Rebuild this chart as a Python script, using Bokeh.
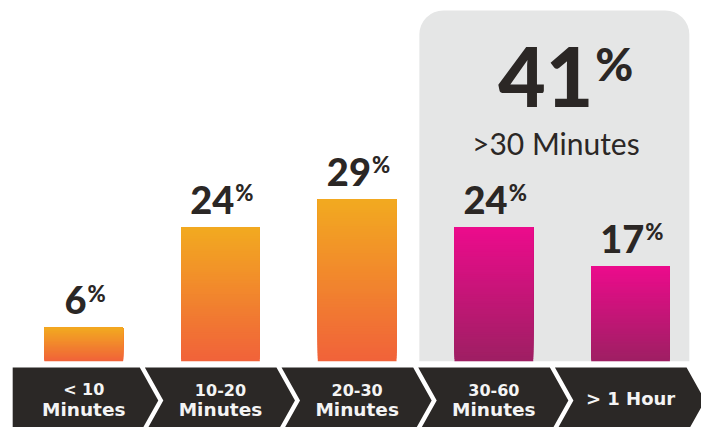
import numpy as np
from bokeh.plotting import figure
from bokeh.models import Range1d, BoxAnnotation
from bokeh.core.properties import value
from bokeh.embed import file_html
from bokeh.resources import INLINE

# ---------------- data ----------------
categories = ["< 10\nMinutes", "10-20\nMinutes", "20-30\nMinutes", "30-60\nMinutes", "> 1 Hour"]
shares = [6, 24, 29, 24, 17]
highlight_start = 3            # first category of the ">30 Minutes" group
highlight_label = ">30 Minutes"

# ---------------- style ----------------
ORANGE_TOP, ORANGE_BOT = (242, 170, 32), (241, 98, 58)
MAGENTA_TOP, MAGENTA_BOT = (236, 11, 140), (158, 31, 99)
DARK = "#2B2725"
BAND = "#2B2826"
PANEL = "#E5E6E6"
NUM_FONT = value("Lato Black")
BAR_W = 0.576
N_STRIPS = 60
BASE_SHIFT = 0.36   # empirical: rendered baseline sits this many em below the anchor


def base(offset_px, fs):
    """y offset (px, positive down) that puts the alphabetic baseline offset_px from the anchor"""
    return offset_px - BASE_SHIFT * fs


n = len(categories)
idx = np.arange(n)

p = figure(width=701, height=427,
           x_range=Range1d(-0.609, 4.519), y_range=Range1d(-11.88, 64.64),
           output_backend="svg", toolbar_location=None,
           x_axis_location=None, y_axis_location=None, min_border=0)
p.grid.visible = False
p.outline_line_color = None
p.background_fill_color = "white"

# highlight panel
panel_left = highlight_start - 0.545
panel_right = (n - 1) + 0.43
panel_top = 62.85
p.add_layout(BoxAnnotation(left=panel_left, right=panel_right, bottom=0, top=panel_top,
                           fill_color=PANEL, fill_alpha=1.0, line_color=None,
                           border_radius=dict(top_left=24, top_right=24, bottom_right=0, bottom_left=0),
                           level="underlay"))


# gradient bars: overlapping strips, each from its own start up to the bar top
def hexc(c):
    return "#%02x%02x%02x" % tuple(int(round(v)) for v in c)


L, R, B, T, C = [], [], [], [], []
for i, v in enumerate(shares):
    top_c, bot_c = (MAGENTA_TOP, MAGENTA_BOT) if i >= highlight_start else (ORANGE_TOP, ORANGE_BOT)
    edges = np.linspace(0, v, N_STRIPS + 1)
    for k in range(N_STRIPS):
        t = (k + 0.5) / N_STRIPS  # 0 bottom -> 1 top
        col = [bot_c[j] + (top_c[j] - bot_c[j]) * t for j in range(3)]
        L.append(i - BAR_W / 2); R.append(i + BAR_W / 2)
        B.append(edges[k]); T.append(v)
        C.append(hexc(col))
p.quad(left=L, right=R, bottom=B, top=T, fill_color=C, line_color=None)

# value labels with superscript %
NUM_FS, PCT_FS = 38, 22
labels = [str(v) for v in shares]
numw = np.array([0.58 * NUM_FS * len(s) for s in labels])
total = numw + 0.75 * PCT_FS
num_right = -total / 2 + numw
p.text(x=idx, y=shares, text=labels, text_font=NUM_FONT,
       text_font_size=f"{NUM_FS}px", text_color=DARK, text_align="right",
       text_baseline="alphabetic", x_offset=num_right, y_offset=base(-14, NUM_FS))
p.text(x=idx, y=shares, text=["%"] * n, text_font=NUM_FONT,
       text_font_size=f"{PCT_FS}px", text_color=DARK, text_align="left",
       text_baseline="alphabetic", x_offset=num_right + 1, y_offset=base(-26.5, PCT_FS))

# headline in panel
total_high = sum(shares[highlight_start:])
pc = (panel_left + panel_right) / 2
p.text(x=[pc], y=[panel_top], text=[str(total_high)], text_font=NUM_FONT,
       text_font_size="82px", text_color=DARK, text_align="right", text_baseline="alphabetic",
       x_offset=39, y_offset=base(96, 82))
p.text(x=[pc], y=[panel_top], text=["%"], text_font=NUM_FONT,
       text_font_size="46px", text_color=DARK, text_align="left", text_baseline="alphabetic",
       x_offset=41, y_offset=base(70, 46))
p.text(x=[pc], y=[panel_top], text=[highlight_label], text_font=value("Lato"),
       text_font_size="30px", text_color=DARK, text_align="center", text_baseline="alphabetic",
       x_offset=1.5, y_offset=base(143, 30))

# chevron band acting as category axis
band_top, band_mid, band_bot = -1.13, -7.04, -12.95
half = 0.41
gap = 0.037
tip = 0.135
xs, ys = [], []
for i in idx:
    right = i + half
    left = i - 0.52 if i == 0 else (i - 1) + half + gap
    if i == 0:
        xs.append([left, right, right + tip, right, left])
        ys.append([band_top, band_top, band_mid, band_bot, band_bot])
    else:
        xs.append([left, right, right + tip, right, left, left + tip])
        ys.append([band_top, band_top, band_mid, band_bot, band_bot, band_mid])
p.patches(xs, ys, fill_color=BAND, line_color=None)

line1, line2, single = [], [], []
for i, c in enumerate(categories):
    parts = c.split("\n")
    if len(parts) == 2:
        line1.append((i, parts[0])); line2.append((i, parts[1]))
    else:
        single.append((i, parts[0]))
for rows, fs, yo in ((line1, 16, -5), (line2, 18.5, 15.5), (single, 18, 4.3)):
    p.text(x=[r[0] for r in rows], y=[band_mid] * len(rows), text=[r[1] for r in rows],
           text_font=value("DejaVu Sans"), text_font_style="bold", text_font_size=f"{fs}px",
           text_color="#F4F4F4", text_align="center", text_baseline="alphabetic",
           y_offset=base(yo, fs))

open("out.html", "w").write(file_html(p, INLINE))
